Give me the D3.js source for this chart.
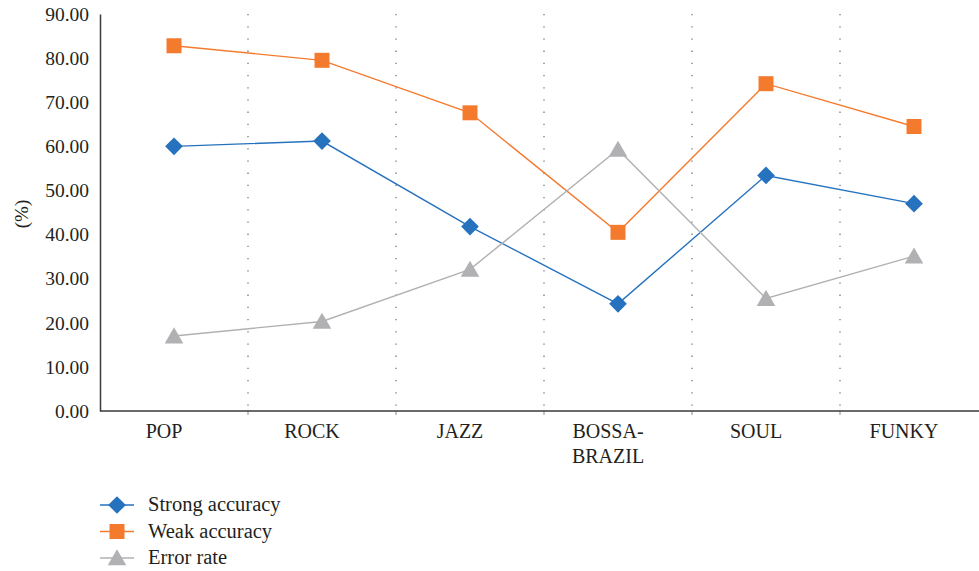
<!DOCTYPE html>
<html>
<head>
<meta charset="utf-8">
<script src="https://cdn.jsdelivr.net/npm/d3@7"></script>
<style>
  html, body { margin: 0; padding: 0; background: #fff; }
  svg { display: block; }
  text { font-family: "Liberation Serif", "DejaVu Serif", serif; fill: #231f20; }
</style>
</head>
<body>
<svg id="chart" width="979" height="571"></svg>
<script>
// Genre categories (BOSSA-BRAZIL wraps over two lines)
const categories = ["POP", "ROCK", "JAZZ", "BOSSA-BRAZIL", "SOUL", "FUNKY"];
const categoryLines = [["POP"], ["ROCK"], ["JAZZ"], ["BOSSA-", "BRAZIL"], ["SOUL"], ["FUNKY"]];

// Percentages per genre
const strongAccuracy = [60.0, 61.2, 41.8, 24.3, 53.4, 47.0];
const weakAccuracy   = [82.8, 79.5, 67.6, 40.5, 74.2, 64.5];
const errorRate      = [17.0, 20.3, 32.1, 59.3, 25.5, 35.1];

const yTicks = [0, 10, 20, 30, 40, 50, 60, 70, 80, 90];

const series = [
  { name: "Strong accuracy", values: strongAccuracy, color: "#2672BE", symbol: "diamond" },
  { name: "Weak accuracy",   values: weakAccuracy,   color: "#F47B2E", symbol: "square" },
  { name: "Error rate",      values: errorRate,      color: "#B1B1B4", symbol: "triangle" }
];

const svg = d3.select("#chart");
const plotLeft = 100, plotTop = 14, plotBottom = 411, bandW = 148;
const labelShift = -10; // category labels sit a little left of the band centre

const x = d3.scaleBand().domain(categories).range([plotLeft, plotLeft + bandW * categories.length]);
const y = d3.scaleLinear().domain([0, 90]).range([plotBottom, plotTop]);
const cx = c => x(c) + x.bandwidth() / 2;

// Dotted separators between categories
svg.append("g").selectAll("line")
  .data(categories.slice(1))
  .join("line")
  .attr("x1", d => x(d)).attr("x2", d => x(d))
  .attr("y1", plotTop).attr("y2", plotBottom)
  .attr("stroke", "#6d6d6d").attr("stroke-width", 1.2)
  .attr("stroke-dasharray", "1.3,10.9");

// Small ticks under the category axis at band boundaries
svg.append("g").selectAll("line")
  .data(categories.slice(1))
  .join("line")
  .attr("x1", d => x(d)).attr("x2", d => x(d))
  .attr("y1", plotBottom).attr("y2", plotBottom + 4)
  .attr("stroke", "#8a8a8a").attr("stroke-width", 1);

// Y axis
const yAxis = svg.append("g")
  .attr("transform", `translate(${plotLeft},0)`)
  .call(d3.axisLeft(y).tickValues(yTicks).tickFormat(d3.format(".2f")).tickSize(0).tickPadding(11));
yAxis.select(".domain").attr("stroke", "#3a3a3a").attr("stroke-width", 1.5);
yAxis.selectAll("text").style("font-size", "19.5px").style("font-family", "Liberation Serif, serif").attr("fill", "#231f20");

// X axis baseline
svg.append("line")
  .attr("x1", plotLeft).attr("x2", 979)
  .attr("y1", plotBottom).attr("y2", plotBottom)
  .attr("stroke", "#3a3a3a").attr("stroke-width", 1.5);

// Category labels
const catG = svg.append("g");
categories.forEach((c, i) => {
  const t = catG.append("text")
    .attr("x", cx(c) + labelShift).attr("y", 438)
    .attr("text-anchor", "middle")
    .style("font-size", "20px");
  categoryLines[i].forEach((ln, j) => {
    t.append("tspan").attr("x", cx(c) + labelShift).attr("dy", j === 0 ? 0 : 25).text(ln);
  });
});

// Y axis title
svg.append("text")
  .attr("transform", `translate(28,214) rotate(-90)`)
  .attr("text-anchor", "middle")
  .style("font-size", "19px")
  .text("(%)");

function symbolPath(kind) {
  if (kind === "diamond") return d3.symbol().type(d3.symbolDiamond2).size(200)();
  if (kind === "square") return d3.symbol().type(d3.symbolSquare).size(225)();
  return d3.symbol().type(d3.symbolTriangle).size(150)();
}

const line = d3.line().x((d, i) => cx(categories[i])).y(d => y(d));

series.forEach(s => {
  svg.append("path")
    .datum(s.values)
    .attr("d", line)
    .attr("fill", "none")
    .attr("stroke", s.color)
    .attr("stroke-width", 1.4);
  svg.append("g").selectAll("path")
    .data(s.values)
    .join("path")
    .attr("d", symbolPath(s.symbol))
    .attr("transform", (d, i) => `translate(${cx(categories[i])},${y(d) + (s.symbol === "triangle" ? 2 : 0)})`)
    .attr("fill", s.color);
});

// Legend
const legend = svg.append("g");
series.forEach((s, i) => {
  const ly = 505 + i * 26.5;
  legend.append("line")
    .attr("x1", 100).attr("x2", 134).attr("y1", ly).attr("y2", ly)
    .attr("stroke", s.color).attr("stroke-width", 1.4);
  legend.append("path")
    .attr("d", symbolPath(s.symbol))
    .attr("transform", `translate(117,${ly + (s.symbol === "triangle" ? 2 : 0)})`)
    .attr("fill", s.color);
  legend.append("text")
    .attr("x", 148).attr("y", ly + 6)
    .style("font-size", "20.5px")
    .text(s.name);
});
</script>
</body>
</html>
